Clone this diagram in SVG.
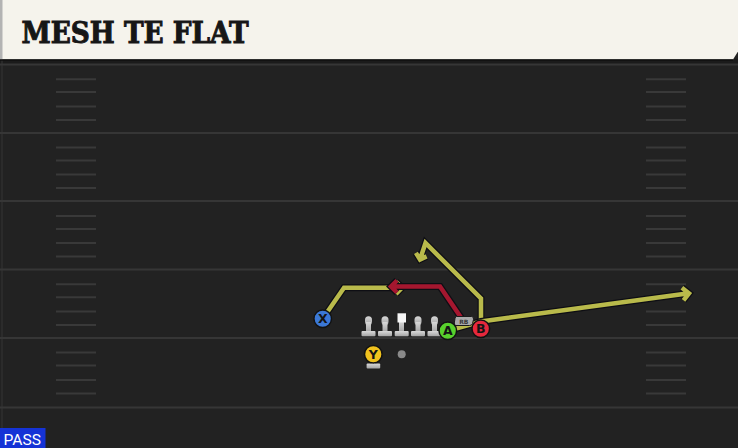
<svg xmlns="http://www.w3.org/2000/svg" width="738" height="448" viewBox="0 0 738 448">
<defs>
<style>
.yard{stroke:#363636;stroke-width:2;fill:none}
.hash{stroke:#393939;stroke-width:2;fill:none}
.ol{fill:none;stroke:#0e0e14;stroke-width:7;stroke-linejoin:miter;stroke-linecap:butt}
.yl{fill:none;stroke:#b9ba4b;stroke-width:4.5;stroke-linejoin:miter;stroke-linecap:butt}
.rd{fill:none;stroke:#a5172f;stroke-width:4.5;stroke-linejoin:miter;stroke-linecap:butt}
.pc{stroke:#121212;stroke-width:1.5}
.pl{font-family:"DejaVu Sans","Liberation Sans",sans-serif;font-weight:bold;font-size:12.5px;fill:#141414;text-anchor:middle}
.lm{fill:url(#lg)}
</style>
<linearGradient id="lg" x1="0" y1="0" x2="0" y2="1">
<stop offset="0" stop-color="#d8d8d8"/>
<stop offset="1" stop-color="#a4a4a4"/>
</linearGradient>
<g id="lineman">
<rect x="-3.5" y="316.3" width="7" height="9" rx="3.5"/>
<rect x="-2.5" y="322" width="5" height="10"/>
<rect x="-7" y="331" width="14" height="5.3" rx="1"/>
</g>
</defs>

<g id="field">
<rect x="0" y="0" width="738" height="448" fill="#222222"/>
<rect x="0" y="59" width="738" height="5" fill="#1b1b1b"/>
<line x1="2" y1="60" x2="2" y2="448" stroke="#2f2f2f" stroke-width="1.5"/>
<g class="yard">
<line x1="0" y1="64.5" x2="738" y2="64.5"/>
<line x1="0" y1="133" x2="738" y2="133"/>
<line x1="0" y1="201" x2="738" y2="201"/>
<line x1="0" y1="269.5" x2="738" y2="269.5"/>
<line x1="0" y1="338" x2="738" y2="338"/>
<line x1="0" y1="407.5" x2="738" y2="407.5"/>
</g>
<g class="hash">
<path d="M56 79.3H96M56 92H96M56 106.5H96M56 120H96M646 79.3H686M646 92H686M646 106.5H686M646 120H686"/>
<path d="M56 147.5H96M56 160.5H96M56 174.5H96M56 188H96M646 147.5H686M646 160.5H686M646 174.5H686M646 188H686"/>
<path d="M56 216H96M56 229H96M56 243H96M56 256.5H96M646 216H686M646 229H686M646 243H686M646 256.5H686"/>
<path d="M56 284.3H96M56 297.3H96M56 311.5H96M56 325H96M646 284.3H686M646 297.3H686M646 311.5H686M646 325H686"/>
<path d="M56 352.5H96M56 365.5H96M56 380H96M56 393.5H96M646 352.5H686M646 365.5H686M646 380H686M646 393.5H686"/>
</g>
</g>

<g id="header">
<polygon points="0,0 738,0 738,51.5 733,59.5 0,59.5" fill="#f5f3ec"/>
<rect x="0" y="0" width="2.5" height="59.5" fill="#b3b3b3"/>
<line x1="0" y1="60" x2="733" y2="60" stroke="#101010" stroke-width="1.5"/>
<text x="21.5" y="43.3" font-family="'DejaVu Serif','Liberation Serif',serif" font-weight="bold" font-stretch="condensed" font-size="29" fill="#161616" stroke="#161616" stroke-width="0.9" textLength="227" lengthAdjust="spacingAndGlyphs">MESH TE FLAT</text>
</g>

<g id="connectors">
<g id="route-x">
<path class="ol" d="M322.7 318.8L344 287.8H402M396 281.8L402 287.8L396 293.8"/>
<path class="yl" d="M322.7 318.8L344 287.8H402M396 281.8L402 287.8L396 293.8"/>
</g>
<g id="route-rb">
<path class="ol" d="M462 319L440 286.5H391M397 280.5L391 286.5L397 292.5"/>
<path class="rd" d="M462 319L440 286.5H391M397 280.5L391 286.5L397 292.5"/>
</g>
<g id="route-b">
<path class="ol" d="M481 328V298.5L425.5 243L420 259.5M426.6 256.4L420 259.5L415.9 252.9"/>
<path class="yl" d="M481 328V298.5L425.5 243L420 259.5M426.6 256.4L420 259.5L415.9 252.9"/>
</g>
<g id="route-a">
<path class="ol" d="M447.8 330.8L481 321.5L689 293.3M681.9 287.8L689 293.3L683.5 300.4"/>
<path class="yl" d="M447.8 330.8L481 321.5L689 293.3M681.9 287.8L689 293.3L683.5 300.4"/>
</g>
</g>

<g id="lt"><use href="#lineman" x="368.5" class="lm"/></g>
<g id="lg-guard"><use href="#lineman" x="385" class="lm"/></g>
<g id="center">
<rect x="399" y="321" width="5" height="11" class="lm"/>
<rect x="394.7" y="331" width="14" height="5.3" rx="1" class="lm"/>
<rect x="397.5" y="313.3" width="8.5" height="9.2" fill="#f6f6f6"/>
</g>
<g id="rg"><use href="#lineman" x="418" class="lm"/></g>
<g id="rt"><use href="#lineman" x="434.5" class="lm"/></g>

<g id="qb"><circle cx="401.7" cy="354.3" r="4" fill="#8a8a8a"/></g>

<g id="rb">
<path d="M456.5 316.5H471.5Q474 316.5 473.5 319.5L472.5 323.5Q472 325.5 469.5 325.5H456Q454 325.5 454.3 323L455 318.5Q455.3 316.5 456.5 316.5Z" fill="#a9a9a9" stroke="#1a1a1a" stroke-width="1"/>
<text x="463.8" y="323.6" font-family="'DejaVu Sans',sans-serif" font-weight="bold" font-size="6" fill="#3a3a3a" text-anchor="middle">RB</text>
</g>

<g id="player-x">
<circle cx="322.7" cy="318.8" r="8.8" fill="#3b78d6" class="pc"/>
<text x="322.7" y="323.3" class="pl">X</text>
</g>
<g id="player-y">
<rect x="371.6" y="361" width="3.6" height="4" class="lm"/>
<rect x="366.6" y="363.6" width="13.6" height="4.8" rx="1" class="lm"/>
<circle cx="373.3" cy="354.3" r="8.8" fill="#f0c21e" class="pc"/>
<text x="373.3" y="358.8" class="pl">Y</text>
</g>
<g id="player-a">
<circle cx="447.8" cy="330.8" r="8.8" fill="#58d12d" class="pc"/>
<text x="447.8" y="335.3" class="pl">A</text>
</g>
<g id="player-b">
<circle cx="480.8" cy="328.8" r="8.8" fill="#e6283c" class="pc"/>
<text x="480.8" y="333.3" class="pl">B</text>
</g>

<g id="pass-tag">
<rect x="0" y="428" width="45.5" height="20" fill="#1533d6"/>
<text x="3.5" y="445" font-family="Roboto,'Liberation Sans',sans-serif" font-size="15" fill="#ffffff" textLength="37.5" lengthAdjust="spacingAndGlyphs">PASS</text>
</g>
</svg>
